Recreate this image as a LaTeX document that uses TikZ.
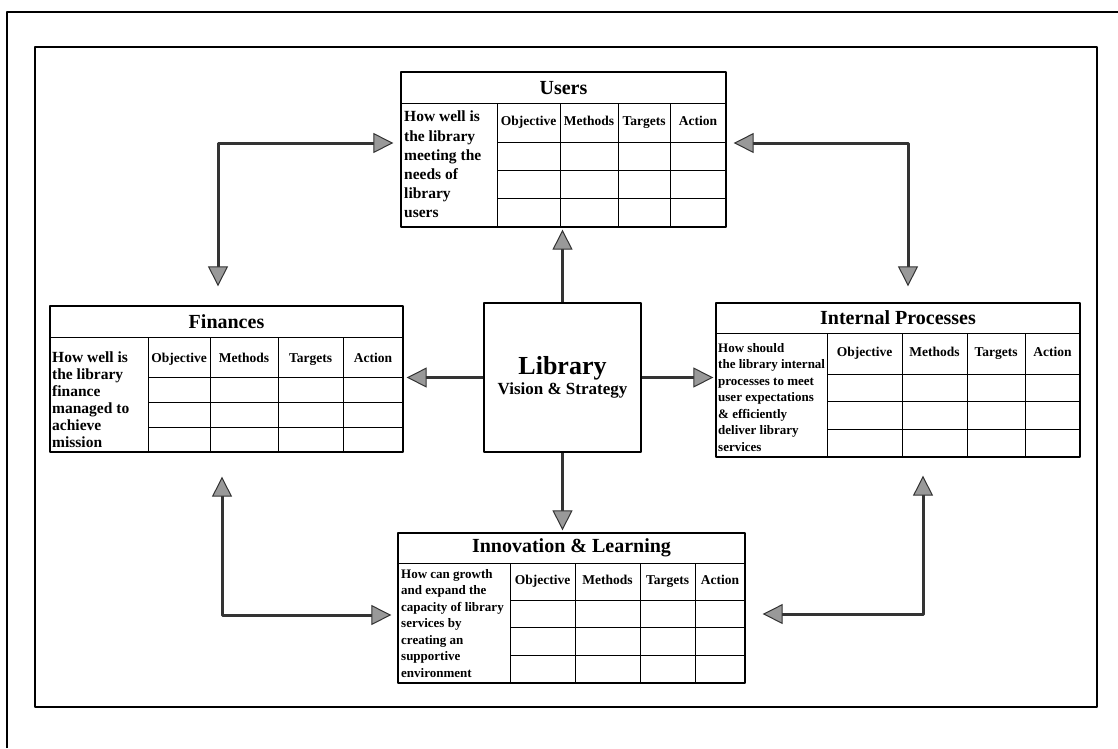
\documentclass[tikz,border=0pt]{standalone}
\usepackage{fontspec}
\setmainfont{Liberation Serif}
\usetikzlibrary{arrows.meta,fit}
\tikzset{
  tbl/.style={draw, line width=1.3pt, inner sep=0pt},
  grid/.style={line width=1pt},
  ttl/.style={inner sep=0pt, font=\bfseries\fontsize{20}{22}\selectfont},
  hd/.style={inner sep=0pt, text height=9.5pt, text depth=3pt, font=\bfseries\fontsize{13.5}{15}\selectfont},
  qs/.style={anchor=north west, align=left, inner sep=0pt, font=\bfseries\fontsize{15.5}{17}\selectfont},
  qsm/.style={qs, font=\bfseries\fontsize{13}{16.5}\selectfont},
  conn/.style={line width=3pt, draw=black!80}
}
\begin{document}
\begin{tikzpicture}[x=1pt, y=-1pt, line join=round, >={Triangle[length=20pt,width=20pt,line width=1pt,fill=black!40]}]
  \useasboundingbox (0,0) rectangle (1118,748);
  \def\bsctab#1#2#3#4#5#6#7#8#9{%
    \node[tbl, fit={(#2,#5) (#4,#8)}] (#1) {};
    \draw[grid] (#2,#6) -- (#4,#6) (#3,#6) -- (#3,#8) (#3,#7) -- (#4,#7)
      (#3,{#7+(#8-#7)/3}) -- (#4,{#7+(#8-#7)/3})
      (#3,{#7+2*(#8-#7)/3}) -- (#4,{#7+2*(#8-#7)/3});
    \foreach \c in {#9} \draw[grid] (\c,#6) -- (\c,#8);
  }
  \draw[line width=1.5pt] (7,748) -- (7,12) -- (1118,12);
  \draw[line width=1.2pt] (35,47) rectangle (1097,707);

  \bsctab{users}{401}{497}{726}{72}{103}{142}{227}{560,618,670}
  \bsctab{fin}{50}{148}{403}{306}{337}{377}{452}{210,278,343}
  \bsctab{intp}{716}{827}{1080}{303}{333}{374}{457}{902,967,1025}
  \bsctab{innov}{398}{510}{745}{533}{563}{600}{683}{575,640,695}

  \node[ttl] (users-t) at (563.5,88) {Users};
  \node[ttl] (fin-t) at (226.5,322) {Finances};
  \node[ttl] (intp-t) at (898,318) {Internal Processes};
  \node[ttl] (innov-t) at (571.5,548) {Innovation \& Learning};

  \foreach \x/\t [count=\i] in {528.5/Objective,589/Methods,644/Targets,698/Action}
    \node[hd] (users-h\i) at (\x,122.5) {\t};
  \foreach \x/\t [count=\i] in {179/Objective,244/Methods,310.5/Targets,373/Action}
    \node[hd] (fin-h\i) at (\x,359) {\t};
  \foreach \x/\t [count=\i] in {864.5/Objective,934.5/Methods,996/Targets,1052.5/Action}
    \node[hd] (intp-h\i) at (\x,353.5) {\t};
  \foreach \x/\t [count=\i] in {542.5/Objective,607.5/Methods,667.5/Targets,720/Action}
    \node[hd] (innov-h\i) at (\x,581.5) {\t};

  \node[qs, font=\bfseries\fontsize{15.5}{19.2}\selectfont] (users-q) at (404,111)
    {How well is\\the library\\meeting the\\needs of\\library\\users};
  \node[qs] (fin-q) at (52,352)
    {How well is\\the library\\finance\\managed to\\achieve\\mission};
  \node[qsm] (intp-q) at (718,343)
    {How should\\the library internal\\processes to meet\\user expectations\\\& efficiently\\deliver library\\services};
  \node[qsm] (innov-q) at (401,569)
    {How can growth\\and expand the\\capacity of library\\services by\\creating an\\supportive\\environment};

  \node[draw, line width=1.5pt, minimum width=157pt, minimum height=149pt, align=center, font=\bfseries] (lib) at (562.5,377.5)
    {{\fontsize{26}{28}\selectfont Library}\\[2pt]{\fontsize{17}{19}\selectfont Vision \& Strategy}};

  \draw[conn, ->, shorten >=2pt] (lib.north) -- (lib.north |- users.south);
  \draw[conn, ->, shorten >=2pt] (lib.south) -- (lib.south |- innov.north);
  \draw[conn, ->, shorten >=3pt] (lib.west) -- (lib.west -| fin.east);
  \draw[conn, ->, shorten >=2pt] (lib.east) -- (lib.east -| intp.west);

  \coordinate (tl) at (218,143);
  \coordinate (tr) at (908,143);
  \coordinate (bl) at (222,615);
  \coordinate (br) at (923,614);
  \draw[conn, <->, shorten <=19pt, shorten >=7pt] (tl |- fin.north) -- (tl) -- (tl -| users.west);
  \draw[conn, <->, shorten <=7pt, shorten >=16pt] (tr -| users.east) -- (tr) -- (tr |- intp.north);
  \draw[conn, <->, shorten <=24pt, shorten >=6pt] (bl |- fin.south) -- (bl) -- (bl -| innov.west);
  \draw[conn, <->, shorten <=18pt, shorten >=17pt] (br |- intp.south) -- (br) -- (br -| innov.east);
\end{tikzpicture}
\end{document}
